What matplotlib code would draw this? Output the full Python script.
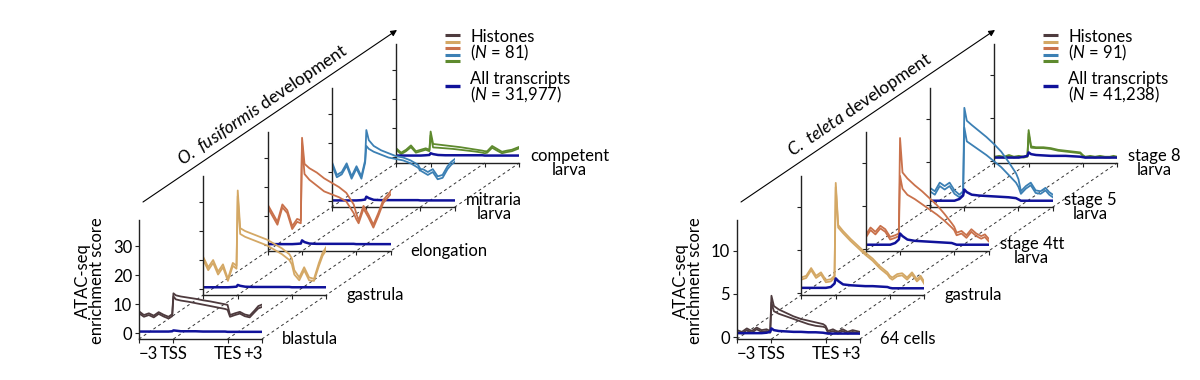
import matplotlib.pyplot as plt

plt.rcParams['font.family'] = ['Lato', 'DejaVu Sans']
plt.rcParams['mathtext.fontset'] = 'custom'
plt.rcParams['mathtext.rm'] = 'Lato'
plt.rcParams['mathtext.it'] = 'Lato:italic'

W, H = 1200, 380

# metaplot position grid: -3 kb = 0, TSS = 28, TES = 72, +3 kb = 100
pos = [0, 4, 8, 12, 16, 20, 24, 27, 28, 30, 34, 40, 46, 52, 58, 64, 70, 72,
       74, 78, 82, 86, 90, 94, 97, 100]
xtick_pos = [0, 28, 72, 100]
xtick_lab = ['\u22123', 'TSS', 'TES', '+3']

stage_colors = ['#4e3b3e', '#d4a865', '#c9714b', '#3c80b4', '#5e8a2e']
blue = '#10129a'

# ---- O. fusiformis ----
ofu_stages = ['blastula', 'gastrula', 'elongation', 'mitraria\nlarva', 'competent\nlarva']
ofu_hi = [
    [7.5, 6.2, 6.8, 6.0, 7.2, 6.3, 5.6, 6.5, 13.7, 13.0, 12.6, 12.2, 11.8, 11.3, 10.9, 10.4, 9.9, 9.7, 6.2, 6.8, 7.3, 6.4, 6.0, 7.8, 9.3, 9.8],
    [11.0, 7.5, 10.0, 6.0, 8.5, 3.5, 9.0, 8.0, 34.0, 21.0, 20.0, 19.0, 18.0, 17.0, 15.5, 14.0, 12.0, 10.5, 6.5, 4.0, 7.5, 4.0, 3.5, 9.0, 12.5, 14.5],
    [14.0, 11.0, 8.0, 14.0, 12.0, 6.5, 9.0, 8.5, 37.0, 28.0, 26.5, 25.0, 23.0, 21.5, 20.0, 18.0, 14.0, 11.0, 8.5, 13.5, 10.5, 7.0, 11.0, 15.5, 17.0, 18.5],
    [13.5, 9.0, 10.0, 13.0, 8.5, 12.0, 8.5, 14.0, 24.5, 21.0, 19.0, 17.5, 16.5, 15.5, 15.0, 14.0, 12.5, 11.0, 11.0, 10.0, 11.0, 8.5, 9.0, 12.0, 13.5, 14.5],
    [3.0, 1.5, 2.5, 4.0, 2.0, 2.5, 3.0, 2.5, 8.8, 4.5, 4.3, 4.0, 3.7, 3.4, 3.0, 2.6, 2.2, 2.0, 2.0, 3.8, 2.8, 1.8, 2.2, 2.5, 3.0, 3.5],
]
ofu_lo = [
    [6.8, 5.6, 6.2, 5.4, 6.6, 5.7, 5.0, 5.8, 12.6, 11.6, 11.2, 10.8, 10.3, 9.8, 9.3, 8.8, 8.3, 8.0, 5.6, 6.2, 6.7, 5.8, 5.4, 7.2, 8.5, 9.0],
    [10.0, 6.5, 9.0, 5.0, 7.5, 2.8, 8.0, 7.0, 32.0, 19.0, 18.0, 17.0, 16.0, 15.0, 13.5, 12.0, 10.0, 8.5, 5.0, 3.0, 6.5, 3.0, 2.8, 8.0, 11.5, 13.5],
    [13.0, 10.0, 7.0, 13.0, 11.0, 5.5, 8.0, 7.5, 35.0, 24.5, 22.5, 20.5, 18.5, 17.5, 16.5, 15.0, 11.0, 9.0, 7.5, 12.5, 9.5, 6.0, 10.0, 14.5, 16.0, 17.5],
    [12.7, 8.2, 9.2, 12.2, 7.7, 11.2, 7.7, 13.2, 19.0, 18.0, 17.0, 16.0, 15.0, 14.5, 14.0, 13.0, 11.5, 10.5, 10.0, 9.0, 10.0, 7.5, 8.0, 11.0, 12.5, 13.5],
    [2.5, 1.0, 2.0, 3.4, 1.5, 2.0, 2.5, 2.0, 7.5, 3.3, 3.2, 3.0, 2.8, 2.5, 2.2, 1.9, 1.5, 1.3, 1.5, 3.2, 2.2, 1.3, 1.7, 2.0, 2.5, 3.0],
]
ofu_all = [
    [0.5, 0.5, 0.5, 0.5, 0.5, 0.5, 0.5, 0.6, 0.9, 0.8, 0.6, 0.6, 0.6, 0.5, 0.5, 0.5, 0.5, 0.4, 0.4, 0.4, 0.4, 0.4, 0.4, 0.4, 0.4, 0.4],
    [0.6, 0.6, 0.6, 0.6, 0.6, 0.6, 0.7, 0.8, 1.4, 1.1, 0.8, 0.7, 0.7, 0.7, 0.7, 0.7, 0.7, 0.6, 0.6, 0.6, 0.6, 0.6, 0.6, 0.6, 0.6, 0.6],
    [0.3, 0.3, 0.3, 0.3, 0.3, 0.3, 0.4, 0.5, 1.6, 1.0, 0.5, 0.4, 0.4, 0.4, 0.4, 0.4, 0.4, 0.3, 0.3, 0.3, 0.3, 0.3, 0.3, 0.3, 0.3, 0.3],
    [0.2, 0.2, 0.2, 0.2, 0.2, 0.2, 0.3, 0.5, 1.5, 1.0, 0.4, 0.3, 0.3, 0.3, 0.3, 0.3, 0.3, 0.2, 0.2, 0.2, 0.2, 0.2, 0.2, 0.2, 0.2, 0.2],
    [0.5, 0.5, 0.5, 0.5, 0.5, 0.5, 0.6, 0.7, 1.3, 1.0, 0.7, 0.6, 0.6, 0.6, 0.6, 0.6, 0.6, 0.5, 0.5, 0.5, 0.5, 0.5, 0.5, 0.5, 0.5, 0.5],
]

# ---- C. teleta ----
cte_stages = ['64 cells', 'gastrula', 'stage 4tt\nlarva', 'stage 5\nlarva', 'stage 8\nlarva']
cte_hi = [
    [0.8, 0.6, 1.0, 0.7, 1.1, 0.8, 0.9, 0.7, 4.8, 3.6, 3.2, 2.8, 2.4, 2.1, 1.9, 1.7, 1.5, 1.3, 0.7, 0.9, 0.6, 0.9, 0.6, 0.8, 0.7, 0.6],
    [1.8, 2.0, 2.9, 2.0, 2.4, 1.5, 1.6, 2.0, 12.8, 7.9, 7.2, 6.3, 5.5, 4.7, 4.0, 3.1, 2.4, 2.0, 1.8, 2.2, 2.3, 1.8, 2.4, 1.6, 2.0, 1.3],
    [1.6, 2.5, 2.0, 2.7, 2.3, 1.4, 1.6, 1.8, 12.9, 8.9, 8.2, 7.4, 6.7, 5.9, 5.1, 4.1, 3.0, 2.6, 1.9, 2.1, 1.6, 2.3, 1.8, 1.5, 1.7, 1.2],
    [2.0, 1.6, 2.6, 2.2, 2.6, 1.7, 1.2, 1.6, 11.3, 9.8, 9.3, 8.6, 7.9, 7.1, 6.2, 5.0, 3.7, 3.0, 1.6, 2.2, 2.6, 1.7, 1.6, 2.0, 1.5, 1.2],
    [0.5, 0.6, 0.5, 0.7, 0.5, 0.6, 0.5, 0.6, 3.6, 1.7, 1.6, 1.6, 1.5, 1.3, 1.2, 1.1, 1.0, 0.7, 0.5, 0.6, 0.5, 0.6, 0.5, 0.5, 0.6, 0.5],
]
cte_lo = [
    [0.6, 0.4, 0.8, 0.5, 0.9, 0.6, 0.7, 0.5, 4.0, 3.0, 2.7, 2.4, 2.1, 1.8, 1.5, 1.3, 1.2, 1.1, 0.5, 0.7, 0.4, 0.7, 0.4, 0.6, 0.5, 0.4],
    [1.55, 1.75, 2.65, 1.75, 2.15, 1.25, 1.35, 1.75, 12.3, 7.6, 6.95, 6.05, 5.25, 4.45, 3.75, 2.85, 2.15, 1.75, 1.55, 1.95, 2.05, 1.55, 2.15, 1.35, 1.75, 1.05],
    [1.3, 2.2, 1.7, 2.4, 2.0, 1.1, 1.3, 1.5, 8.5, 7.0, 6.3, 5.8, 5.2, 4.6, 4.0, 3.3, 2.5, 2.2, 1.6, 1.8, 1.3, 2.0, 1.5, 1.2, 1.4, 0.9],
    [1.6, 1.2, 2.2, 1.8, 2.2, 1.3, 0.9, 1.2, 9.0, 7.4, 7.0, 6.4, 5.8, 5.1, 4.4, 3.5, 2.6, 2.1, 1.3, 1.9, 2.3, 1.4, 1.3, 1.7, 1.2, 0.9],
    [0.4, 0.5, 0.4, 0.6, 0.4, 0.5, 0.4, 0.5, 3.2, 1.55, 1.5, 1.5, 1.4, 1.2, 1.1, 1.0, 0.9, 0.6, 0.4, 0.5, 0.4, 0.5, 0.4, 0.4, 0.5, 0.4],
]
cte_all = [
    [0.45, 0.45, 0.45, 0.45, 0.45, 0.45, 0.5, 0.6, 1.0, 0.8, 0.7, 0.65, 0.6, 0.6, 0.55, 0.55, 0.5, 0.45, 0.4, 0.4, 0.4, 0.4, 0.4, 0.4, 0.4, 0.4],
    [0.6, 0.6, 0.6, 0.6, 0.6, 0.6, 0.7, 1.1, 1.7, 1.4, 1.0, 0.9, 0.85, 0.8, 0.8, 0.75, 0.7, 0.6, 0.55, 0.55, 0.55, 0.55, 0.55, 0.55, 0.55, 0.55],
    [0.5, 0.5, 0.5, 0.5, 0.5, 0.5, 0.7, 1.1, 1.8, 1.5, 1.1, 0.95, 0.9, 0.85, 0.8, 0.75, 0.7, 0.6, 0.5, 0.5, 0.5, 0.5, 0.5, 0.5, 0.5, 0.5],
    [0.5, 0.5, 0.5, 0.5, 0.5, 0.5, 0.7, 1.1, 1.8, 1.5, 1.2, 1.1, 1.05, 1.0, 0.95, 0.9, 0.8, 0.65, 0.5, 0.5, 0.5, 0.5, 0.5, 0.5, 0.5, 0.5],
    [0.4, 0.4, 0.4, 0.4, 0.4, 0.4, 0.5, 0.6, 1.0, 0.8, 0.7, 0.65, 0.6, 0.6, 0.6, 0.55, 0.5, 0.45, 0.4, 0.4, 0.4, 0.4, 0.4, 0.4, 0.4, 0.4],
]

fig = plt.figure(figsize=(12, 3.8), dpi=100)
over = fig.add_axes([0, 0, 1, 1], zorder=0)
over.set_xlim(0, W)
over.set_ylim(H, 0)
over.axis('off')

AW, AH = 123, 119          # size of one stage box (px)
SX, SY = 64.3, 44          # offset between stages (px)


def panel(x0, y0, stages, hi, lo, allt, ylim, yticks, title, n_hist, n_all, leg_x):
    for i in range(5):
        left = x0 + i * SX
        bottom = y0 - i * SY
        ax = fig.add_axes([left / W, 1 - bottom / H, AW / W, AH / H], zorder=10 - i)
        ax.patch.set_alpha(0)
        ax.plot(pos, hi[i], color=stage_colors[i], lw=1.3)
        ax.plot(pos, lo[i], color=stage_colors[i], lw=1.3)
        ax.plot(pos, allt[i], color=blue, lw=1.8)
        ax.set_xlim(0, 100)
        ax.set_ylim(*ylim)
        ax.set_xticks(xtick_pos)
        ax.set_yticks(yticks)
        for s in ['top', 'right']:
            ax.spines[s].set_visible(False)
        for s in ['left', 'bottom']:
            ax.spines[s].set_linewidth(1.0)
            ax.spines[s].set_color('#222222')
        ax.tick_params(direction='out', length=3, width=0.8, labelsize=12, pad=2,
                       color='#222222')
        if i == 0:
            ax.set_xticklabels(xtick_lab)
            labs = ax.get_xticklabels()
            labs[0].set_ha('left')
            labs[-1].set_ha('right')
        else:
            ax.tick_params(labelleft=False, labelbottom=False)
        gap = 11 if '\n' in stages[i] else 20
        over.text(left + AW + gap, bottom, stages[i], ha='left', va='center',
                  multialignment='center', fontsize=12, linespacing=0.85)

    # dashed guides joining the tick positions through the stages
    for t in xtick_pos:
        px = x0 + t / 100 * AW
        over.plot([px, px + 4 * SX], [y0, y0 - 4 * SY], ls=(0, (3, 3)),
                  color='#333333', lw=0.7)

    # y label
    over.text(x0 - 49, y0 - 58, 'ATAC-seq\nenrichment score', rotation=90,
              ha='center', va='center', multialignment='center', fontsize=12,
              linespacing=0.85)

    # development arrow
    sx, sy = x0 + 4, y0 - 137
    ex, ey = x0 + 258, y0 - 309
    over.annotate('', xy=(ex, ey), xytext=(sx, sy),
                  arrowprops=dict(arrowstyle='-|>', lw=0.8, color='black',
                                  mutation_scale=9, shrinkA=0, shrinkB=0))
    mx, my = (sx + ex) / 2, (sy + ey) / 2
    over.text(mx - 2, my - 3, title, rotation=34.1, rotation_mode='anchor',
              ha='center', va='bottom', fontsize=12.5)

    # legend
    for k, c in enumerate(stage_colors):
        yy = 35 + k * 6.5
        over.plot([leg_x, leg_x + 15], [yy, yy], color=c, lw=2.2,
                  solid_capstyle='butt')
    over.plot([leg_x, leg_x + 15], [86, 86], color=blue, lw=2.4,
              solid_capstyle='butt')
    over.text(leg_x + 25, 46, 'Histones\n' + n_hist, ha='left', va='center',
              fontsize=12, linespacing=0.82)
    over.text(leg_x + 25, 88, 'All transcripts\n' + n_all, ha='left', va='center',
              fontsize=12, linespacing=0.82)


panel(139, 339, ofu_stages, ofu_hi, ofu_lo, ofu_all, (-2.07, 39), [0, 10, 20, 30],
      r'$\mathit{O.\ fusiformis}$ development',
      r'($\mathit{N}$ = 81)', r'($\mathit{N}$ = 31,977)', 445)
panel(737, 339, cte_stages, cte_hi, cte_lo, cte_all, (-0.23, 13.6), [0, 5, 10],
      r'$\mathit{C.\ teleta}$ development',
      r'($\mathit{N}$ = 91)', r'($\mathit{N}$ = 41,238)', 1043)

fig.savefig('out.png', dpi=100)
